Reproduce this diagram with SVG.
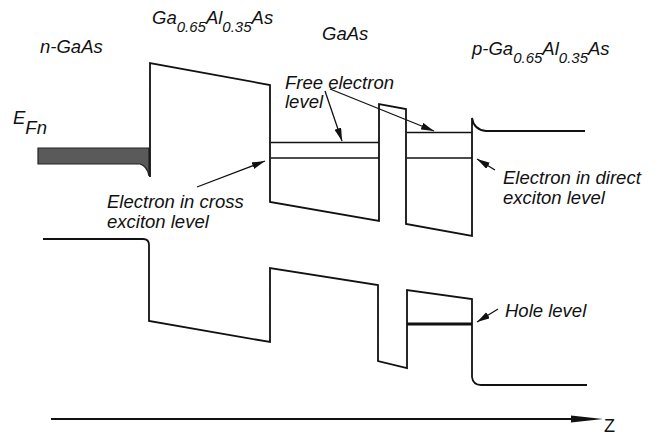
<svg xmlns="http://www.w3.org/2000/svg" width="657" height="435" viewBox="0 0 657 435">
<style>
  .band{fill:none;stroke:#111;stroke-width:1.8;stroke-linejoin:miter}
  .lvl{fill:none;stroke:#111;stroke-width:1.5}
  .lbl{font-family:"Liberation Sans",Arial,sans-serif;font-style:italic;font-size:18.5px;fill:#111}
  .sub{font-size:15px}
  .arr{fill:none;stroke:#111;stroke-width:1.3}
</style>
<defs>
  <marker id="ah" markerUnits="userSpaceOnUse" markerWidth="14" markerHeight="8" refX="13" refY="3.5" orient="auto">
    <path d="M0,0 L13,3.5 L0,7 Z" fill="#111"/>
  </marker>
</defs>
<rect width="657" height="435" fill="#fff"/>

<g id="fermi-level">
  <path d="M38,148 H149 V176 Q147,166 140,164 H38 Z" fill="#5a5a5a" stroke="#222" stroke-width="1.2"/>
</g>

<g id="conduction-band">
  <path class="band" d="M150,177 V63 L270,85 V202 L379,221 V104 L406,109 V224 L472,236 V118 Q474,130 486,131 H585"/>
  <line class="lvl" x1="271" y1="142.5" x2="379" y2="142.5"/>
  <line class="lvl" x1="271" y1="158" x2="379" y2="158"/>
  <line class="lvl" x1="407" y1="132.5" x2="472" y2="132.5"/>
  <line class="lvl" x1="407" y1="158" x2="472" y2="158"/>
</g>

<g id="valence-band">
  <path class="band" d="M43,239 H143 Q149,239 149,245 V321 L270,342 V268 L378,285 V361 L407,368 V290 L472,299 V377 Q473,385 481,385 H587"/>
  <line x1="407" y1="324" x2="472" y2="324" stroke="#111" stroke-width="2.8"/>
</g>

<g id="axis">
  <line x1="51" y1="419" x2="575" y2="419" stroke="#111" stroke-width="2"/>
  <path d="M571,415.5 L603,419 L571,422.5 Z" fill="#111"/>
  <text x="604" y="432" font-family="Liberation Sans,Arial,sans-serif" font-size="18px" fill="#111">Z</text>
</g>

<g id="connectors">
  <line class="arr" x1="197" y1="187" x2="265" y2="161" marker-end="url(#ah)"/>
  <line class="arr" x1="325" y1="91" x2="342" y2="141" marker-end="url(#ah)"/>
  <line class="arr" x1="330" y1="89" x2="434" y2="131" marker-end="url(#ah)"/>
  <line class="arr" x1="495" y1="170" x2="477" y2="159" marker-end="url(#ah)"/>
  <line class="arr" x1="498" y1="309" x2="477" y2="322" marker-end="url(#ah)"/>
</g>

<g id="labels">
  <text class="lbl" x="40" y="53">n-GaAs</text>
  <text class="lbl" x="152" y="24">Ga<tspan class="sub" dy="8">0.65</tspan><tspan dy="-8">Al</tspan><tspan class="sub" dy="8">0.35</tspan><tspan dy="-8">As</tspan></text>
  <text class="lbl" x="322" y="40">GaAs</text>
  <text class="lbl" x="472" y="55">p-Ga<tspan class="sub" dy="8">0.65</tspan><tspan dy="-8">Al</tspan><tspan class="sub" dy="8">0.35</tspan><tspan dy="-8">As</tspan></text>
  <text class="lbl" x="13" y="124">E<tspan dy="10">Fn</tspan></text>
  <text class="lbl" x="285" y="89">Free electron</text>
  <text class="lbl" x="285" y="108">level</text>
  <text class="lbl" x="107" y="208">Electron in cross</text>
  <text class="lbl" x="107" y="228">exciton level</text>
  <text class="lbl" x="503" y="184">Electron in direct</text>
  <text class="lbl" x="503" y="204">exciton level</text>
  <text class="lbl" x="505" y="317">Hole level</text>
</g>
</svg>
